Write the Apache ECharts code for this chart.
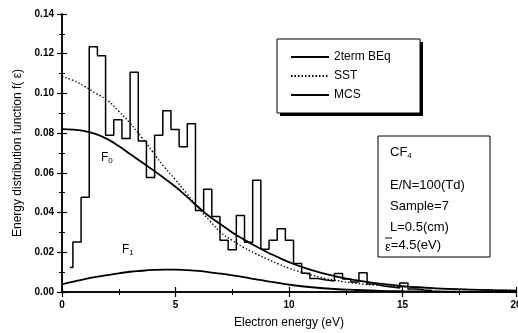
<!DOCTYPE html>
<html>
<head>
<meta charset="utf-8">
<script src="https://cdn.jsdelivr.net/npm/echarts@6/dist/echarts.min.js"></script>
<style>
  html, body { margin: 0; padding: 0; background: #fff; }
  #chart { width: 518px; height: 333px; }
</style>
</head>
<body>
<div id="chart"></div>
<script>
// smooth curves, sampled every so often (eV)
const energy = [0, 0.5, 1, 1.5, 2, 2.5, 3, 3.5, 4, 4.5, 5, 5.5, 6, 6.5, 7, 7.5, 8, 8.5, 9, 9.5, 10, 11, 12, 13, 14, 15, 16, 17, 18, 19, 20];
const f0Beq = [0.082, 0.0818, 0.081, 0.0795, 0.077, 0.0735, 0.0695, 0.0655, 0.0615, 0.0573, 0.053, 0.048, 0.0428, 0.038, 0.034, 0.030, 0.0265, 0.0233, 0.0203, 0.0176, 0.015, 0.011, 0.008, 0.0058, 0.0042, 0.003, 0.0022, 0.0016, 0.0012, 0.0009, 0.0007];
const f1Beq = [0.0038, 0.0052, 0.0065, 0.0076, 0.0085, 0.0094, 0.0102, 0.0107, 0.0111, 0.0113, 0.0113, 0.011, 0.0106, 0.0099, 0.0092, 0.0084, 0.0075, 0.0065, 0.0055, 0.0046, 0.0037, 0.0024, 0.0015, 0.001, 0.0006, 0.0004, 0.0003, 0.0002, 0.0001, 0.0001, 0.0001];
const sst = [0.1085, 0.1065, 0.1035, 0.100, 0.0965, 0.091, 0.085, 0.078, 0.0705, 0.063, 0.0565, 0.0495, 0.0425, 0.036, 0.030, 0.026, 0.0225, 0.0195, 0.0168, 0.0143, 0.012, 0.0085, 0.006, 0.0043, 0.0033, 0.0026, 0.002, 0.0015, 0.0012, 0.001, 0.0008];

// MCS histogram: bin edges (eV) and bin heights
const binEdges = [0.35, 0.48, 0.84, 1.20, 1.56, 1.92, 2.28, 2.64, 3.00, 3.36, 3.72, 4.08, 4.44, 4.80, 5.16, 5.52, 5.88, 6.24, 6.60, 6.96, 7.32, 7.68, 8.04, 8.40, 8.76, 9.12, 9.48, 9.84, 10.20, 10.56, 10.92, 11.28, 11.64, 12.00, 12.36, 12.72, 13.08, 13.44, 13.80, 14.16, 14.52, 14.88, 15.24, 15.60, 15.96, 16.32];
const mcs = [0.0124, 0.0252, 0.0477, 0.1235, 0.119, 0.079, 0.0868, 0.0773, 0.1107, 0.076, 0.0577, 0.079, 0.0913, 0.0818, 0.0732, 0.0847, 0.041, 0.0518, 0.038, 0.026, 0.0213, 0.0385, 0.025, 0.0563, 0.0215, 0.026, 0.0318, 0.026, 0.0143, 0.0095, 0.0068, 0.006, 0.0055, 0.0093, 0.0065, 0.005, 0.0097, 0.004, 0.003, 0.0025, 0.002, 0.0045, 0.0015, 0.001, 0.0008];

const xTicks = [0, 5, 10, 15, 20];
const yTicks = ['0.00', '0.02', '0.04', '0.06', '0.08', '0.10', '0.12', '0.14'];

const font = 'Liberation Sans, Arial, sans-serif';

function pairs(xs, ys) {
    return xs.map((x, i) => [x, ys[i]]);
}

let histData = mcs.map((v, i) => [binEdges[i], v]);
histData.push([binEdges[binEdges.length - 1], mcs[mcs.length - 1]]);

const tickStyle = { show: true, inside: true, length: 5, lineStyle: { color: '#000', width: 1.2 } };
const minorStyle = { show: true, splitNumber: 2, length: 3, lineStyle: { color: '#000', width: 1 } };
const sub = (size, pad) => ({ fontFamily: font, fontSize: size, fill: '#000', padding: [pad, 0, 0, 0] });

const option = {
    animation: false,
    backgroundColor: '#fff',
    grid: { left: 62, right: 2, top: 14, bottom: 41, outerBoundsMode: 'none' },
    legend: {
        data: ['2term BEq', 'SST', 'MCS'],
        orient: 'vertical',
        left: 290,
        top: 51,
        z: 10,
        itemWidth: 38,
        itemHeight: 12,
        itemGap: 7,
        padding: 0,
        itemStyle: { opacity: 0 },
        textStyle: { fontFamily: font, fontSize: 12, color: '#000' }
    },
    xAxis: [
        {
            type: 'value', min: 0, max: 20, interval: 5,
            name: 'Electron energy (eV)', nameLocation: 'middle', nameGap: 25,
            nameTextStyle: { fontFamily: font, fontSize: 12, color: '#000' },
            axisLine: { lineStyle: { color: '#000', width: 1.5 } },
            axisTick: tickStyle, minorTick: minorStyle,
            splitLine: { show: false },
            axisLabel: { fontFamily: font, fontSize: 10, fontWeight: 'bold', color: '#000', margin: 8,
                formatter: v => xTicks.includes(v) ? String(v) : '' }
        },
        {
            type: 'value', min: 0, max: 20, interval: 5, position: 'top',
            axisLine: { show: true, lineStyle: { color: '#000', width: 1.5 } },
            axisTick: tickStyle, minorTick: minorStyle,
            axisLabel: { show: false }, splitLine: { show: false }
        }
    ],
    yAxis: [
        {
            type: 'value', min: 0, max: 0.14, interval: 0.02,
            name: 'Energy distribution function f( ε)', nameLocation: 'middle', nameGap: 35,
            nameTextStyle: { fontFamily: font, fontSize: 12, color: '#000' },
            axisLine: { show: true, lineStyle: { color: '#000', width: 1.5 } },
            axisTick: tickStyle, minorTick: minorStyle,
            splitLine: { show: false },
            axisLabel: { fontFamily: font, fontSize: 10, fontWeight: 'bold', color: '#000', margin: 8,
                formatter: v => yTicks[Math.round(v / 0.02)] }
        },
        {
            type: 'value', min: 0, max: 0.14, interval: 0.02, position: 'right',
            axisLine: { show: true, lineStyle: { color: '#000', width: 1.5 } },
            axisTick: tickStyle, minorTick: minorStyle,
            axisLabel: { show: false }, splitLine: { show: false }
        }
    ],
    series: [
        {
            name: 'MCS', type: 'line', step: 'end', symbol: 'none',
            data: histData,
            lineStyle: { color: '#000', width: 1.5 }, itemStyle: { color: '#000' }
        },
        {
            name: 'SST', type: 'line', smooth: true, symbol: 'none',
            data: pairs(energy, sst),
            lineStyle: { color: '#000', width: 1.3, type: [1.5, 2] }, itemStyle: { color: '#000' }
        },
        {
            name: '2term BEq', type: 'line', smooth: true, symbol: 'none',
            data: pairs(energy, f0Beq),
            lineStyle: { color: '#000', width: 1.8 }, itemStyle: { color: '#000' }
        },
        {
            name: '2term BEq', type: 'line', smooth: true, symbol: 'none',
            data: pairs(energy, f1Beq),
            lineStyle: { color: '#000', width: 1.8 }, itemStyle: { color: '#000' }
        }
    ],
    graphic: [
        // legend frame with its drop shadow
        { type: 'rect', z: 5, shape: { x: 280, y: 42, width: 143, height: 74 }, style: { fill: '#000' } },
        { type: 'rect', z: 6, shape: { x: 277, y: 39, width: 143, height: 74 }, style: { fill: '#fff', stroke: '#000', lineWidth: 1 } },
        {
            type: 'text', left: 101, top: 152, z: 6,
            style: { text: '{m|F}{s|0}', rich: { m: sub(12, 0), s: sub(8, 6) } }
        },
        {
            type: 'text', left: 122, top: 244, z: 6,
            style: { text: '{m|F}{s|1}', rich: { m: sub(12, 0), s: sub(8, 6) } }
        },
        {
            type: 'rect', z: 6, shape: { x: 378, y: 136, width: 112, height: 121 },
            style: { fill: '#fff', stroke: '#000', lineWidth: 1 }
        },
        {
            type: 'text', left: 390, top: 146, z: 7,
            style: { text: '{m|CF}{s|4}', rich: { m: sub(13, 0), s: sub(8, 7) } }
        },
        {
            type: 'text', left: 390, top: 175, z: 7,
            style: { text: 'E/N=100(Td)\nSample=7\nL=0.5(cm)', fontFamily: font, fontSize: 13, lineHeight: 21, fill: '#000' }
        },
        {
            type: 'text', left: 385, top: 239, z: 7,
            style: { text: '{e|ε}{m|=4.5(eV)}', rich: { e: sub(13, 4), m: sub(13, 0) } }
        },
        { type: 'line', z: 7, shape: { x1: 385, y1: 238, x2: 392, y2: 238 }, style: { stroke: '#000', lineWidth: 1 } }
    ]
};

const chart = echarts.init(document.getElementById('chart'), null, { renderer: 'canvas' });
chart.setOption(option);
</script>
</body>
</html>
